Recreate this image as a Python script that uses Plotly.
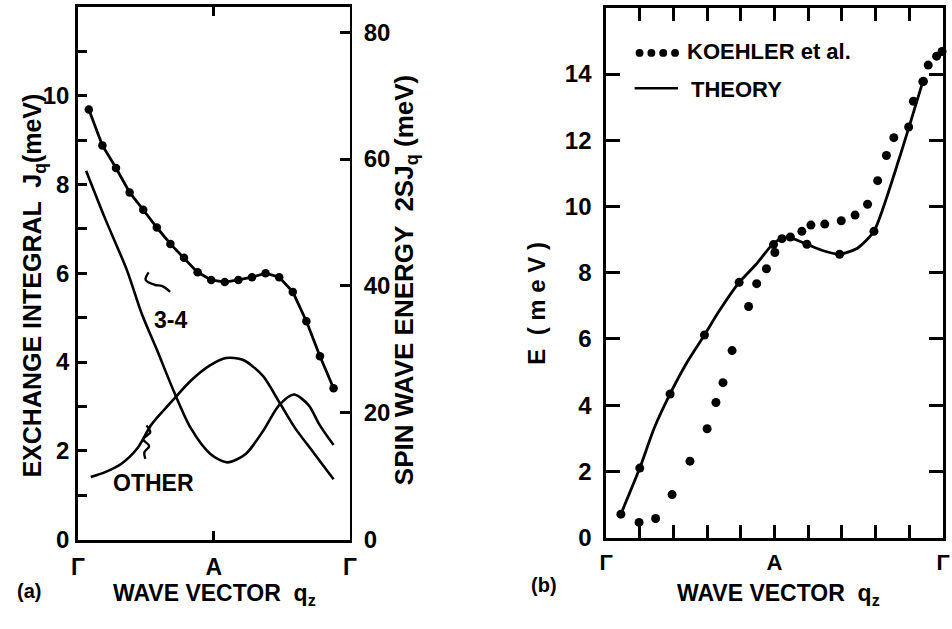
import plotly.graph_objects as go

# ---------------- data ----------------
# Panel (a): exchange integral J(q) along Gamma-A-Gamma (q as fraction of path)
j_total_q = [0.04, 0.09, 0.14, 0.19, 0.24, 0.29, 0.34, 0.39, 0.44, 0.49,
             0.54, 0.59, 0.64, 0.69, 0.74, 0.79, 0.84, 0.89, 0.94]
j_total = [9.69, 8.88, 8.37, 7.82, 7.43, 7.03, 6.66, 6.35, 6.02, 5.85,
           5.80, 5.85, 5.91, 6.00, 5.91, 5.58, 4.92, 4.13, 3.41]

j34_q = [0.03, 0.10, 0.18, 0.235, 0.29, 0.354, 0.415, 0.487, 0.549, 0.617,
         0.68, 0.74, 0.794, 0.848, 0.888, 0.94]
j34 = [8.31, 7.23, 6.07, 5.08, 4.28, 3.32, 2.51, 1.93, 1.74, 1.93,
       2.44, 3.03, 3.27, 3.03, 2.59, 2.13]

j_other_q = [0.047, 0.10, 0.16, 0.22, 0.27, 0.343, 0.415, 0.487, 0.545, 0.606,
             0.68, 0.74, 0.80, 0.87, 0.94]
j_other = [1.41, 1.52, 1.71, 2.07, 2.59, 3.10, 3.58, 3.93, 4.09, 4.05,
           3.69, 3.10, 2.50, 1.93, 1.36]

SPIN = 3.5  # S for Gd; right-hand scale is 2*S*J

# little pointer strokes tying the labels to their curves
mark34_q = [0.26, 0.249, 0.282, 0.31, 0.339]
mark34_j = [6.02, 5.85, 5.74, 5.71, 5.58]
mark_oth_q = [0.252, 0.266, 0.240, 0.262, 0.244, 0.248]
mark_oth_j = [2.57, 2.42, 2.26, 2.11, 1.96, 1.82]

# Panel (b): spin-wave energy, measured (Koehler et al.) and theory
koehler_q = [0.098, 0.147, 0.196, 0.249, 0.300, 0.326, 0.347, 0.374, 0.423, 0.447,
             0.476, 0.501, 0.522, 0.547, 0.581, 0.608, 0.649, 0.698, 0.739, 0.776,
             0.806, 0.832, 0.854, 0.898, 0.912, 0.942, 0.956, 0.981, 0.997]
koehler_e = [0.46, 0.58, 1.30, 2.31, 3.29, 4.08, 4.68, 5.65, 6.98, 7.67,
             8.12, 8.61, 9.03, 9.08, 9.25, 9.44, 9.47, 9.57, 9.74, 10.07,
             10.78, 11.54, 12.08, 12.40, 13.18, 13.78, 14.27, 14.54, 14.68]

theory_line_q = [0.044, 0.10, 0.143, 0.19, 0.24, 0.292, 0.336, 0.395, 0.444, 0.497,
                 0.523, 0.552, 0.596, 0.64, 0.693, 0.746, 0.795, 0.87, 0.94]
theory_line_e = [0.71, 2.10, 3.31, 4.34, 5.29, 6.12, 6.85, 7.71, 8.24, 8.89,
                 9.04, 9.04, 8.86, 8.68, 8.56, 8.74, 9.25, 11.45, 13.77]
theory_pts_q = [0.044, 0.10, 0.19, 0.292, 0.395, 0.497, 0.596, 0.693, 0.795, 0.94]
theory_pts_e = [0.71, 2.10, 4.34, 6.12, 7.71, 8.85, 8.86, 8.56, 9.25, 13.77]

q_ticks_a = [0, 0.5, 1]
q_text_a = ["Γ", "A", "Γ"]
q_ticks_b = [i / 10 for i in range(11)]
q_text_b = ["Γ", "", "", "", "", "A", "", "", "", "", "Γ"]
j_ticks = [0, 2, 4, 6, 8, 10]
j_minor = [1, 3, 5, 7, 9, 11]
sw_ticks = [0, 20, 40, 60, 80]
e_ticks = [0, 2, 4, 6, 8, 10, 12, 14]

# ---------------- layout helpers ----------------
W, H = 952, 629
FONT = "Liberation Sans, Arial, sans-serif"
INK = "black"


def fx(p):
    return p / W


def fy(p):
    return 1 - p / H


def bold(size):
    return dict(family=FONT, size=size, color=INK, weight="bold")


fig = go.Figure()

# panel (a)
fig.add_trace(go.Scatter(x=j34_q, y=j34, mode="lines", xaxis="x", yaxis="y",
                         line=dict(color=INK, width=2.6, shape="spline", smoothing=0.8)))
fig.add_trace(go.Scatter(x=j_other_q, y=j_other, mode="lines", xaxis="x", yaxis="y",
                         line=dict(color=INK, width=2.6, shape="spline", smoothing=0.8)))
fig.add_trace(go.Scatter(x=j_total_q, y=j_total, mode="lines+markers", xaxis="x", yaxis="y",
                         line=dict(color=INK, width=2.8),
                         marker=dict(color=INK, size=8.5)))
# same curve on the spin-wave-energy scale (keeps the right axis live)
fig.add_trace(go.Scatter(x=j_total_q, y=[2 * SPIN * v for v in j_total], mode="markers",
                         xaxis="x", yaxis="y2", hoverinfo="skip",
                         marker=dict(color=INK, size=8.5, opacity=0)))
fig.add_trace(go.Scatter(x=mark34_q, y=mark34_j, mode="lines", xaxis="x", yaxis="y",
                         line=dict(color=INK, width=2.4, shape="spline")))
fig.add_trace(go.Scatter(x=mark_oth_q, y=mark_oth_j, mode="lines", xaxis="x", yaxis="y",
                         line=dict(color=INK, width=2.4, shape="spline")))

# panel (b)
fig.add_trace(go.Scatter(x=theory_line_q, y=theory_line_e, mode="lines", xaxis="x2", yaxis="y3",
                         line=dict(color=INK, width=2.8, shape="spline", smoothing=0.6)))
fig.add_trace(go.Scatter(x=theory_pts_q, y=theory_pts_e, mode="markers", xaxis="x2", yaxis="y3",
                         marker=dict(color=INK, size=9)))
fig.add_trace(go.Scatter(x=koehler_q, y=koehler_e, mode="markers", xaxis="x2", yaxis="y3",
                         marker=dict(color=INK, size=9), cliponaxis=False))

axis_common = dict(showgrid=False, zeroline=False, showline=True, linecolor=INK,
                   linewidth=2.5, tickcolor=INK, tickwidth=2.5, ticks="inside")

fig.update_layout(
    width=W, height=H,
    margin=dict(l=0, r=0, t=0, b=0),
    paper_bgcolor="white", plot_bgcolor="white",
    showlegend=False,
    font=bold(22),
    xaxis=dict(axis_common, domain=[fx(72), fx(348)], range=[0, 1], anchor="y",
               mirror="ticks", ticklen=9, tickvals=q_ticks_a, ticktext=q_text_a,
               tickfont=bold(23), ticklabelstandoff=5),
    yaxis=dict(axis_common, domain=[fy(551), fy(7)], range=[0, 12], anchor="x",
               mirror=False, ticklen=9, tickvals=j_ticks, tickfont=bold(24),
               ticklabelstandoff=1,
               minor=dict(tickvals=j_minor, ticks="inside", ticklen=9,
                          tickwidth=2.5, tickcolor=INK)),
    yaxis2=dict(axis_common, overlaying="y", side="right", anchor="x", range=[0, 84],
                linewidth=2, ticklen=10, tickvals=sw_ticks, tickfont=bold(24),
                ticklabelstandoff=7),
    xaxis2=dict(axis_common, domain=[fx(608), fx(950)], range=[0, 1], anchor="y3",
                mirror="ticks", ticklen=13, tickvals=q_ticks_b, ticktext=q_text_b,
                tickfont=bold(22), ticklabelstandoff=3),
    yaxis3=dict(axis_common, domain=[fy(549), fy(8)], range=[0, 16], anchor="x2",
                mirror="ticks", ticklen=14, tickvals=e_ticks, tickfont=bold(24),
                ticklabelstandoff=7),
)

ann = []
# axis titles, panel (a)
ann.append(dict(text="EXCHANGE INTEGRAL  J<sub>q</sub>(meV)", x=fx(27), y=fy(292),
                textangle=-90, font=bold(25)))
ann.append(dict(text="SPIN WAVE ENERGY  2SJ<sub>q</sub> (meV)", x=fx(404), y=fy(286),
                textangle=-90, font=bold(26)))
ann.append(dict(text="WAVE VECTOR  q<sub>z</sub>", x=fx(211), y=fy(607), font=bold(23)))
ann.append(dict(text="(a)", x=fx(22), y=fy(603), font=bold(20)))
# curve labels, panel (a)
ann.append(dict(text="3-4", x=0.34, y=4.95, xref="x", yref="y", font=bold(23)))
ann.append(dict(text="OTHER", x=0.278, y=1.27, xref="x", yref="y", font=bold(23)))
# panel (b)
ann.append(dict(text="E  ( m e V )", x=fx(538), y=fy(310), textangle=-90, font=bold(24)))
ann.append(dict(text="WAVE VECTOR  q<sub>z</sub>", x=fx(783), y=fy(607), font=bold(23)))
ann.append(dict(text="(b)", x=fx(545), y=fy(597),
                font=dict(family=FONT, size=20, color=INK)))
ann.append(dict(text="KOEHLER et al.", x=fx(688), y=fy(53), xanchor="left",
                font=bold(22)))
ann.append(dict(text="THEORY", x=fx(692), y=fy(91), xanchor="left", font=bold(22)))

for a in ann:
    a.setdefault("xref", "paper")
    a.setdefault("yref", "paper")
    a.setdefault("showarrow", False)
    a.setdefault("xanchor", "center")
    a.setdefault("yanchor", "middle")
fig.update_layout(annotations=ann)

# legend glyphs for panel (b)
shapes = [dict(type="line", xref="paper", yref="paper", x0=fx(637), x1=fx(681),
               y0=fy(90), y1=fy(90), line=dict(color=INK, width=2.5))]
for cx in (642, 654, 666, 678):
    shapes.append(dict(type="circle", xref="paper", yref="paper",
                       x0=fx(cx - 4), x1=fx(cx + 4), y0=fy(58), y1=fy(50),
                       fillcolor=INK, line=dict(color=INK, width=0)))
fig.update_layout(shapes=shapes)

fig.write_html("out.html")
